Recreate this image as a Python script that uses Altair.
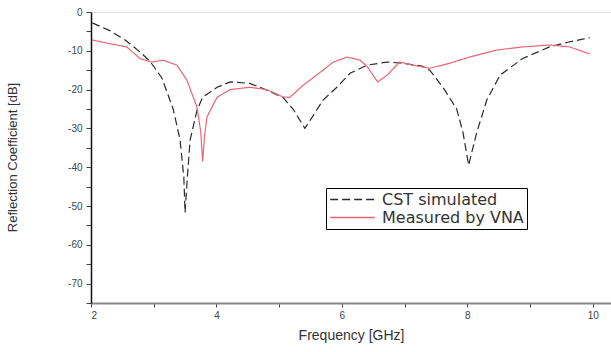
import altair as alt
import pandas as pd

series_names = ["CST simulated", "Measured by VNA"]

cst_freq = [2.02, 2.3, 2.55, 2.78, 2.94, 3.13, 3.31, 3.42, 3.48, 3.50, 3.53, 3.58, 3.69, 3.78,
            4.01, 4.22, 4.53, 4.74, 5.06, 5.22, 5.41, 5.55, 5.70, 5.92, 6.13, 6.40, 6.72,
            6.97, 7.29, 7.40, 7.61, 7.83, 7.93, 8.02, 8.15, 8.31, 8.52, 8.88, 9.31, 9.60, 9.84, 9.95]
cst_db = [-2.8, -4.8, -7.3, -10.3, -12.7, -17.0, -25.0, -33.0, -42.6, -51.7, -44.0, -33.0, -25.3, -22.0,
          -19.4, -18.0, -18.4, -19.7, -22.0, -25.0, -30.0, -26.5, -22.7, -19.4, -15.8, -13.7, -12.9,
          -13.2, -14.0, -15.0, -19.4, -25.0, -31.0, -39.5, -31.0, -22.7, -16.3, -12.0, -9.0, -7.8, -7.0, -6.6]

vna_freq = [2.02, 2.25, 2.57, 2.78, 2.97, 3.15, 3.37, 3.53, 3.69, 3.75, 3.78, 3.81, 3.85, 4.01, 4.22,
            4.53, 4.80, 5.06, 5.17, 5.38, 5.70, 5.85, 6.02, 6.08, 6.29, 6.40, 6.57, 6.72,
            6.92, 7.13, 7.40, 7.72, 8.04, 8.47, 8.88, 9.31, 9.63, 9.95]
vna_db = [-7.2, -8.0, -9.0, -12.0, -12.9, -12.4, -13.7, -17.6, -24.5, -31.0, -38.5, -32.0, -27.0, -22.0, -20.0,
          -19.4, -20.0, -21.9, -22.0, -18.9, -15.0, -13.0, -12.0, -11.6, -12.4, -14.0, -18.0, -16.3,
          -12.9, -13.7, -14.5, -13.2, -11.6, -9.8, -9.0, -8.5, -9.0, -10.8]

x_ticks = [2, 3, 4, 5, 6, 7, 8, 9, 10]
y_ticks = [-75, -70, -65, -60, -55, -50, -45, -40, -35, -30, -25, -20, -15, -10, -5, 0]

rows = []
for i, (f, d) in enumerate(zip(cst_freq, cst_db)):
    rows.append({"freq": f, "db": d, "series": series_names[0], "idx": i})
for i, (f, d) in enumerate(zip(vna_freq, vna_db)):
    rows.append({"freq": f, "db": d, "series": series_names[1], "idx": i})
df = pd.DataFrame(rows)

legend_props = dict(
    orient="none", legendX=235, legendY=176, title=None,
    strokeColor="black", fillColor="white", padding=3,
    symbolType="stroke", symbolSize=2000, symbolStrokeWidth=1.5,
    labelFontSize=16, labelFont="DejaVu Sans", labelColor="#333",
    rowPadding=1, labelOffset=6, cornerRadius=0, clipHeight=17,
)

chart = alt.Chart(df).mark_line(strokeWidth=1.2, clip=True).encode(
    x=alt.X("freq:Q",
            scale=alt.Scale(domain=[2, 10.29], nice=False, zero=False),
            axis=alt.Axis(values=x_ticks,
                          labelExpr="datum.value % 2 == 0 ? datum.label : ''",
                          title="Frequency [GHz]", grid=False,
                          domainColor="#888", domainWidth=2,
                          tickColor="#444", tickSize=4,
                          labelFont="Liberation Sans", labelFontSize=10, labelColor="#444",
                          labelPadding=3,
                          titleFont="Liberation Sans", titleFontSize=14, titleFontWeight="normal",
                          titleColor="#333", titlePadding=8)),
    y=alt.Y("db:Q",
            scale=alt.Scale(domain=[-75, 0], nice=False, zero=False),
            axis=alt.Axis(values=y_ticks,
                          labelExpr="datum.value % 10 == 0 ? replace(datum.label, '\u2212', '-') : ''",
                          title="Reflection Coefficient [dB]", grid=False,
                          domainColor="#111", domainWidth=1.5,
                          tickColor="#444", tickSize=5,
                          labelFont="Liberation Sans", labelFontSize=10, labelColor="#444",
                          labelPadding=4,
                          titleFont="Liberation Sans", titleFontSize=13, titleFontWeight="normal",
                          titleColor="#333", titleX=-72, titleY=145)),
    color=alt.Color("series:N",
                    scale=alt.Scale(domain=series_names, range=["#2a2a2a", "#e86674"]),
                    legend=alt.Legend(**legend_props)),
    strokeDash=alt.StrokeDash("series:N",
                              scale=alt.Scale(domain=series_names, range=[[8, 4], [1, 0]]),
                              legend=alt.Legend(**legend_props)),
    order=alt.Order("idx:Q"),
).properties(
    width=520, height=291,
    autosize=alt.AutoSizeParams(type="none"),
    padding={"left": 91, "top": 12, "right": 0, "bottom": 49},
).configure_view(stroke=None).configure(background="white")

chart.save("out.html", embed_options={"renderer": "svg", "actions": False})
